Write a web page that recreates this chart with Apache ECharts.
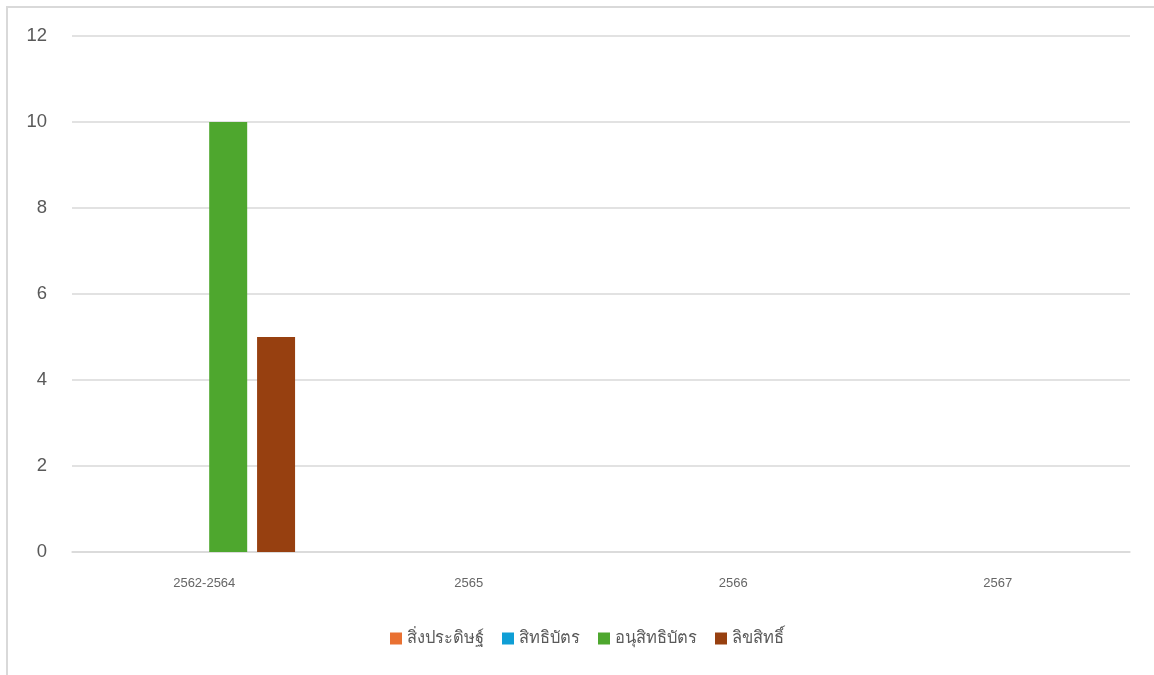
<!DOCTYPE html>
<html><head><meta charset="utf-8">
<script src="https://cdn.jsdelivr.net/npm/echarts@6/dist/echarts.min.js"></script>
<style>html,body{margin:0;padding:0;background:#fff}#c{width:1154px;height:675px}</style>
</head><body><div id="c"></div>
<script>
const categories = ['2562-2564', '2565', '2566', '2567'];
const seriesNames = ['สิ่งประดิษฐ์', 'สิทธิบัตร', 'อนุสิทธิบัตร', 'ลิขสิทธิ์'];
const inventions = [0, 0, 0, 0];
const patents = [0, 0, 0, 0];
const pettyPatents = [10, 0, 0, 0];
const copyrights = [5, 0, 0, 0];
const yTicks = { min: 0, max: 12, interval: 2 };

const colors = ['#E97132', '#0F9ED5', '#4EA72E', '#974010'];
const values = [inventions, patents, pettyPatents, copyrights];

const chart = echarts.init(document.getElementById('c'));
chart.setOption({
  animation: false,
  color: colors,
  graphic: [{
    type: 'rect', silent: true,
    shape: { x: 7, y: 7, width: 1300, height: 800 },
    style: { fill: 'none', stroke: '#d9d9d9', lineWidth: 2 }
  }],
  grid: { left: 72, right: 24, top: 36, bottom: 123 },
  legend: {
    bottom: 23, left: 385,
    itemWidth: 12, itemHeight: 12, itemGap: 18,
    icon: 'rect',
    textStyle: { color: '#595959', fontSize: 16.5, fontFamily: 'sans-serif' },
    data: seriesNames
  },
  xAxis: {
    type: 'category', data: categories,
    axisLine: { lineStyle: { color: '#d9d9d9', width: 1.5 } },
    axisTick: { show: false },
    axisLabel: { color: '#666666', fontSize: 13, margin: 25, fontFamily: 'sans-serif' }
  },
  yAxis: {
    type: 'value', min: yTicks.min, max: yTicks.max, interval: yTicks.interval,
    axisLine: { show: false }, axisTick: { show: false },
    splitLine: { lineStyle: { color: '#d9d9d9', width: 1.5 } },
    axisLabel: { color: '#595959', fontSize: 18.5, margin: 25, fontFamily: 'sans-serif' }
  },
  series: seriesNames.map((n, i) => ({
    name: n, type: 'bar', data: values[i],
    barWidth: 38, barGap: '26%',
    itemStyle: { color: colors[i] }
  }))
});
</script></body></html>
